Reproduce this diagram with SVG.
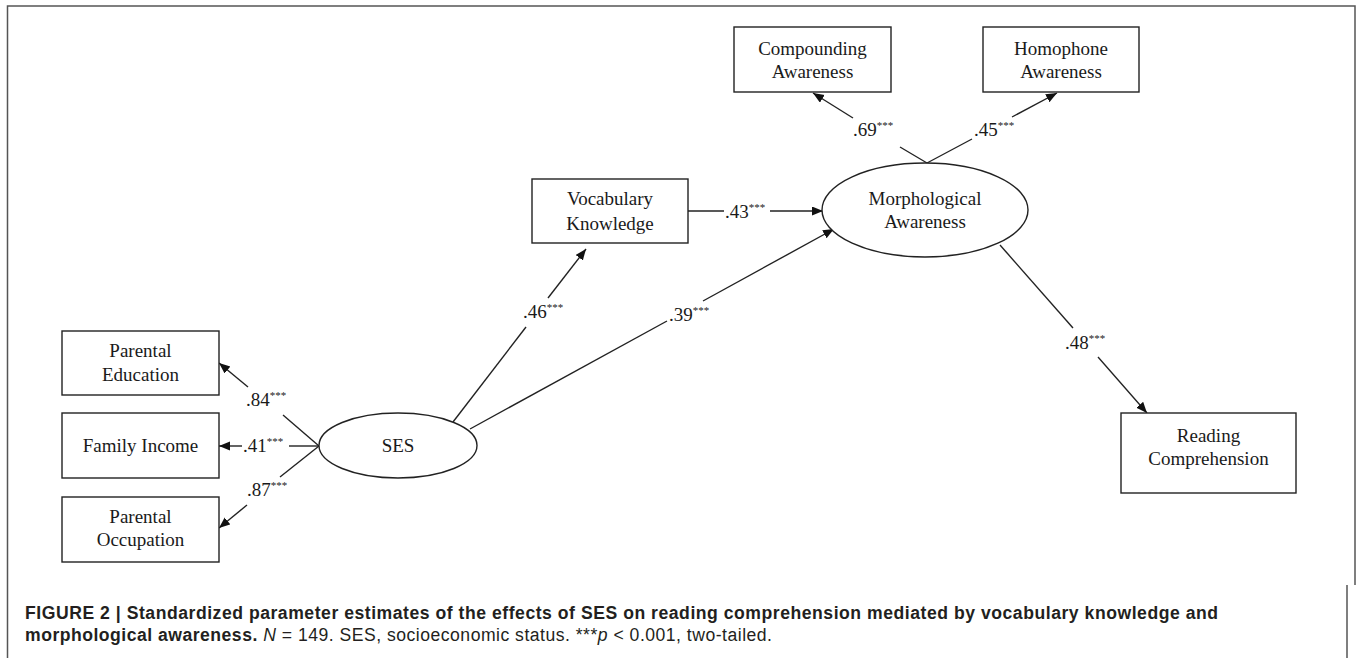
<svg xmlns="http://www.w3.org/2000/svg" width="1357" height="658" viewBox="0 0 1357 658">
<style>
.frame{fill:none;stroke:#555;stroke-width:1.5}
.box{fill:#fff;stroke:#222;stroke-width:1.4}
.ell{fill:#fff;stroke:#222;stroke-width:1.4}
.nt{font-family:"Liberation Serif","Times New Roman",serif;font-size:19px;fill:#1a1a1a;text-anchor:middle}
.lbl{font-family:"Liberation Serif","Times New Roman",serif;font-size:19px;fill:#1a1a1a}
.st{font-size:11px}
.ln{fill:none;stroke:#222;stroke-width:1.4}
.cap{font-family:"Liberation Sans",Arial,sans-serif;font-size:17.6px;fill:#231f20}
.b{font-weight:bold}
</style>
<defs>
<marker id="ah" markerUnits="userSpaceOnUse" markerWidth="12" markerHeight="10" refX="11" refY="4.5" orient="auto">
<path d="M0,0 L11,4.5 L0,9 Z" fill="#111"/>
</marker>
</defs>
<rect width="1357" height="658" fill="#fff"/>
<path class="frame" d="M7.5,660 V6 H1355 V585 M1347,585 V660"/>

<g id="connectors">
<path class="ln" d="M319,446 L283,415"/>
<path class="ln" d="M248,387 L219,363" marker-end="url(#ah)"/>
<path class="ln" d="M319,446 L289,446"/>
<path class="ln" d="M242,446 L219,446" marker-end="url(#ah)"/>
<path class="ln" d="M319,446 L280,477"/>
<path class="ln" d="M247,505 L219,528" marker-end="url(#ah)"/>
<path class="ln" d="M453,422 L526,327"/>
<path class="ln" d="M548,298 L586,249" marker-end="url(#ah)"/>
<path class="ln" d="M470,429 L667,321"/>
<path class="ln" d="M703,301 L834,229" marker-end="url(#ah)"/>
<path class="ln" d="M688,211 L724,211"/>
<path class="ln" d="M770,211 L823,211" marker-end="url(#ah)"/>
<path class="ln" d="M927,163 L900,147"/>
<path class="ln" d="M853,118 L813,93" marker-end="url(#ah)"/>
<path class="ln" d="M927,163 L972,139"/>
<path class="ln" d="M1012,117 L1057,93" marker-end="url(#ah)"/>
<path class="ln" d="M1000,245 L1073,328"/>
<path class="ln" d="M1098,357 L1147,413" marker-end="url(#ah)"/>
<text class="lbl" x="246" y="406">.84<tspan class="st" dy="-7">***</tspan></text>
<text class="lbl" x="243" y="452">.41<tspan class="st" dy="-7">***</tspan></text>
<text class="lbl" x="247" y="496">.87<tspan class="st" dy="-7">***</tspan></text>
<text class="lbl" x="523" y="318">.46<tspan class="st" dy="-7">***</tspan></text>
<text class="lbl" x="669" y="321">.39<tspan class="st" dy="-7">***</tspan></text>
<text class="lbl" x="725" y="218">.43<tspan class="st" dy="-7">***</tspan></text>
<text class="lbl" x="853" y="136">.69<tspan class="st" dy="-7">***</tspan></text>
<text class="lbl" x="974" y="136">.45<tspan class="st" dy="-7">***</tspan></text>
<text class="lbl" x="1065" y="349">.48<tspan class="st" dy="-7">***</tspan></text>
</g>

<g id="parental-education">
<rect class="box" x="62" y="331" width="157" height="64"/>
<text class="nt" x="140.5" y="357">Parental</text>
<text class="nt" x="140.5" y="381">Education</text>
</g>
<g id="family-income">
<rect class="box" x="62" y="413" width="157" height="65"/>
<text class="nt" x="140.5" y="452">Family Income</text>
</g>
<g id="parental-occupation">
<rect class="box" x="62" y="497" width="157" height="65"/>
<text class="nt" x="140.5" y="523">Parental</text>
<text class="nt" x="140.5" y="546">Occupation</text>
</g>
<g id="ses">
<ellipse class="ell" cx="398" cy="445.5" rx="79" ry="32.5"/>
<text class="nt" x="398" y="452">SES</text>
</g>
<g id="vocabulary-knowledge">
<rect class="box" x="532" y="179" width="156" height="64"/>
<text class="nt" x="610" y="205">Vocabulary</text>
<text class="nt" x="610" y="230">Knowledge</text>
</g>
<g id="morphological-awareness">
<ellipse class="ell" cx="925" cy="210" rx="103" ry="47"/>
<text class="nt" x="925" y="205">Morphological</text>
<text class="nt" x="925" y="228">Awareness</text>
</g>
<g id="compounding-awareness">
<rect class="box" x="734" y="27" width="157" height="65"/>
<text class="nt" x="812.5" y="55">Compounding</text>
<text class="nt" x="812.5" y="78">Awareness</text>
</g>
<g id="homophone-awareness">
<rect class="box" x="983" y="27" width="156" height="65"/>
<text class="nt" x="1061" y="55">Homophone</text>
<text class="nt" x="1061" y="78">Awareness</text>
</g>
<g id="reading-comprehension">
<rect class="box" x="1121" y="413" width="175" height="80"/>
<text class="nt" x="1208.5" y="442">Reading</text>
<text class="nt" x="1208.5" y="465">Comprehension</text>
</g>

<g id="caption">
<text class="cap b" x="25" y="619" textLength="1193" lengthAdjust="spacing">FIGURE 2 | Standardized parameter estimates of the effects of SES on reading comprehension mediated by vocabulary knowledge and</text>
<text class="cap" x="25" y="641" textLength="747" lengthAdjust="spacing"><tspan class="b">morphological awareness.</tspan> <tspan font-style="italic">N</tspan> = 149. SES, socioeconomic status. ***<tspan font-style="italic">p</tspan> &lt; 0.001, two-tailed.</text>
</g>
</svg>
